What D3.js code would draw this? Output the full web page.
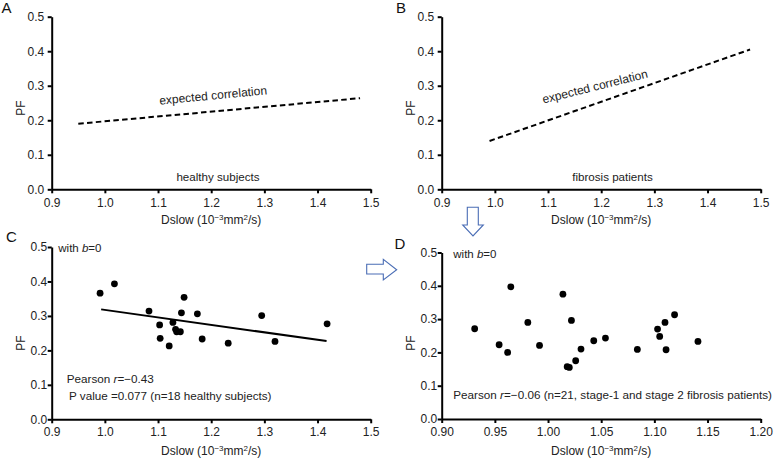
<!DOCTYPE html>
<html>
<head>
<meta charset="utf-8">
<script src="https://cdn.jsdelivr.net/npm/d3@7"></script>
<style>
  body { margin: 0; background: #fff; }
  svg { display: block; font-family: "Liberation Sans", Arial, sans-serif; }
</style>
</head>
<body>
<div id="chart"></div>
<script>
var width = 774;
var height = 461;

// tick values
var xTicksWide = [0.9, 1.0, 1.1, 1.2, 1.3, 1.4, 1.5];
var xTicksNarrow = [0.90, 0.95, 1.00, 1.05, 1.10, 1.15, 1.20];
var yTicks = [0, 0.1, 0.2, 0.3, 0.4, 0.5];

// A / B : expected correlation lines
var expectedHealthyX = [0.95, 1.48];
var expectedHealthyY = [0.19, 0.264];
var expectedFibrosisX = [0.99, 1.48];
var expectedFibrosisY = [0.14, 0.405];

// C : healthy subjects
var healthyX = [0.991, 1.018, 1.083, 1.103, 1.104, 1.121, 1.128, 1.133, 1.135,
                1.142, 1.144, 1.149, 1.174, 1.183, 1.232, 1.295, 1.320, 1.418];
var healthyY = [0.366, 0.393, 0.314, 0.274, 0.235, 0.213, 0.281, 0.261, 0.254,
                0.254, 0.309, 0.354, 0.306, 0.233, 0.221, 0.301, 0.226, 0.277];
var healthyFitX = [0.993, 1.417];
var healthyFitY = [0.319, 0.227];

// D : fibrosis patients
var fibrosisX = [0.931, 0.954, 0.962, 0.965, 0.981, 0.992, 1.014, 1.022, 1.018, 1.020, 1.026,
                 1.031, 1.043, 1.054, 1.084, 1.103, 1.105, 1.110, 1.111, 1.119, 1.141];
var fibrosisY = [0.271, 0.223, 0.200, 0.397, 0.290, 0.221, 0.375, 0.296, 0.157, 0.155, 0.175,
                 0.210, 0.235, 0.243, 0.209, 0.270, 0.248, 0.290, 0.208, 0.313, 0.233];

var svg = d3.select("#chart")
  .append("svg")
  .attr("width", width)
  .attr("height", height);

var textColor = "#222";

var panel = function(o) {
  var x = d3.scaleLinear().domain([o.xTicks[0], o.xTicks[o.xTicks.length - 1]]).range([o.left, o.right]);
  var y = d3.scaleLinear().domain([0, 0.5]).range([o.bottom, o.top]);
  var g = svg.append("g");

  var xAxis = g.append("g")
    .attr("transform", "translate(0," + o.bottom + ")")
    .call(d3.axisBottom(x).tickValues(o.xTicks).tickFormat(d3.format(o.fmt))
      .tickSize(4).tickSizeOuter(0).tickPadding(o.xPad));
  var yAxis = g.append("g")
    .attr("transform", "translate(" + o.left + ",0)")
    .call(d3.axisLeft(y).tickValues(yTicks).tickFormat(d3.format(".1f"))
      .tickSize(4).tickSizeOuter(0).tickPadding(o.yPad));

  [xAxis, yAxis].forEach(function(a) {
    a.select(".domain").attr("stroke", "#000").attr("stroke-width", 2);
    a.selectAll(".tick line").attr("stroke", "#000").attr("stroke-width", 2);
    a.selectAll(".tick text").attr("fill", textColor).attr("font-size", 12)
      .attr("font-family", "Liberation Sans, Arial, sans-serif");
  });

  // x title with superscripts
  var t = g.append("text")
    .attr("x", (o.left + o.right) / 2)
    .attr("y", o.titleY)
    .attr("text-anchor", "middle")
    .attr("font-size", 12)
    .attr("fill", textColor);
  t.append("tspan").text("Dslow (10");
  t.append("tspan").attr("dy", -4).attr("font-size", 8).text("\u22123");
  t.append("tspan").attr("dy", 4).text("mm");
  t.append("tspan").attr("dy", -4).attr("font-size", 8).text("2");
  t.append("tspan").attr("dy", 4).text("/s)");

  // y title
  g.append("text")
    .attr("transform", "translate(" + (o.left - 27) + "," + o.pfY + ") rotate(-90)")
    .attr("text-anchor", "middle")
    .attr("font-size", 12)
    .attr("fill", textColor)
    .text("PF");

  // panel letter
  g.append("text")
    .attr("x", o.letterX)
    .attr("y", o.letterY)
    .attr("font-size", 15)
    .attr("fill", "#111")
    .text(o.letter);

  return { g: g, x: x, y: y };
};

var line = function(p, xs, ys, dashed) {
  var pts = xs.map(function(d, i) { return [d, ys[i]]; });
  p.g.append("path")
    .attr("d", d3.line().x(function(d) { return p.x(d[0]); }).y(function(d) { return p.y(d[1]); })(pts))
    .attr("fill", "none")
    .attr("stroke", "#000")
    .attr("stroke-width", 2)
    .attr("stroke-dasharray", dashed ? "5.5,3.3" : null);
};

var dots = function(p, xs, ys) {
  p.g.selectAll("circle.dot")
    .data(xs)
    .enter()
    .append("circle")
    .attr("class", "dot")
    .attr("cx", function(d) { return p.x(d); })
    .attr("cy", function(d, i) { return p.y(ys[i]); })
    .attr("r", 3.4)
    .attr("fill", "#000");
};

var label = function(p, x, y, parts, size, anchor, rot) {
  var t = p.g.append("text")
    .attr("font-size", size)
    .attr("fill", textColor)
    .attr("text-anchor", anchor || "start");
  if (rot) {
    t.attr("transform", "translate(" + x + "," + y + ") rotate(" + rot + ")");
  } else {
    t.attr("x", x).attr("y", y);
  }
  parts.forEach(function(s) {
    var ts = t.append("tspan").text(s.t || s);
    if (s.i) ts.attr("font-style", "italic");
  });
};

// A
var pA = panel({ left: 51.7, right: 370.7, top: 16.7, bottom: 189.3, xTicks: xTicksWide, fmt: ".1f",
  xPad: 5, yPad: 3.5, titleY: 224, pfY: 108, letter: "A", letterX: 1.5, letterY: 13 });
line(pA, expectedHealthyX, expectedHealthyY, true);
label(pA, 213.5, 99.5, ["expected correlation"], 12, "middle", -5.5);
label(pA, 218, 181, ["healthy subjects"], 11.6, "middle");

// B
var pB = panel({ left: 441.7, right: 760.7, top: 16.7, bottom: 189.3, xTicks: xTicksWide, fmt: ".1f",
  xPad: 5, yPad: 3.5, titleY: 224, pfY: 108, letter: "B", letterX: 396, letterY: 13 });
line(pB, expectedFibrosisX, expectedFibrosisY, true);
label(pB, 596, 90.5, ["expected correlation"], 12, "middle", -14);
label(pB, 612.5, 181, ["fibrosis patients"], 11.6, "middle");

// C
var pC = panel({ left: 51.7, right: 370.7, top: 247, bottom: 419.3, xTicks: xTicksWide, fmt: ".1f",
  xPad: 4, yPad: 0.5, titleY: 454.5, pfY: 343, letter: "C", letterX: 6, letterY: 242 });
line(pC, healthyFitX, healthyFitY, false);
dots(pC, healthyX, healthyY);
label(pC, 58.3, 251.5, ["with ", { t: "b", i: true }, "=0"], 11.5);
label(pC, 66.7, 382.7, ["Pearson ", { t: "r", i: true }, "=\u22120.43"], 11.7);
label(pC, 69, 399.5, ["P value =0.077 (n=18 healthy subjects)"], 11.7);

// D
var pD = panel({ left: 441.7, right: 760.7, top: 252.5, bottom: 419, xTicks: xTicksNarrow, fmt: ".2f",
  xPad: 4, yPad: 0.5, titleY: 454.5, pfY: 343, letter: "D", letterX: 394.5, letterY: 248.5 });
dots(pD, fibrosisX, fibrosisY);
label(pD, 453.3, 258.3, ["with ", { t: "b", i: true }, "=0"], 11.5);
label(pD, 453.3, 399.3, ["Pearson ", { t: "r", i: true }, "=\u22120.06 (n=21, stage-1 and stage 2 fibrosis patients)"], 11.7);

// hollow arrows between panels
var arrowStyle = function(sel) {
  sel.attr("fill", "#fff").attr("stroke", "#4a6db5").attr("stroke-width", 1.1);
};
svg.append("path")
  .attr("d", "M467.3,207.3 L478.3,207.3 L478.3,225 L483.3,225 L473,236 L462.7,225 L467.3,225 Z")
  .call(arrowStyle);
svg.append("path")
  .attr("d", "M366.7,264.3 L383.3,264.3 L383.3,259.3 L396.7,269.7 L383.3,280 L383.3,274 L366.7,274 Z")
  .call(arrowStyle);
</script>
</body>
</html>
